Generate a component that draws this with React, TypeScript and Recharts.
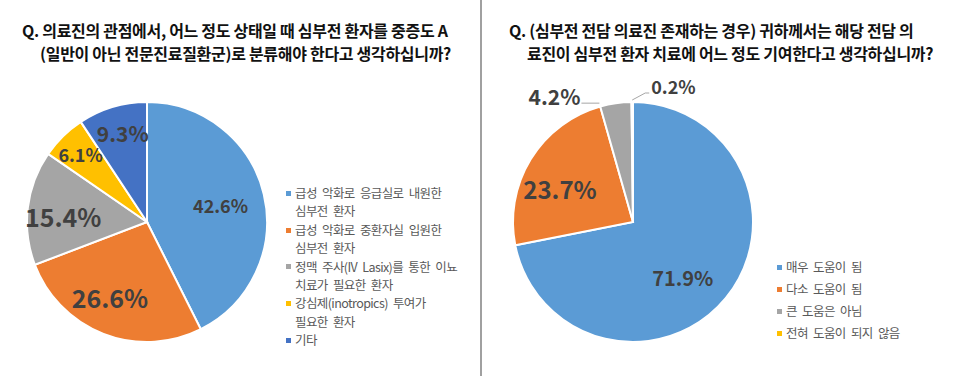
import { PieChart, Pie, Cell, Legend } from "recharts";

const COLORS = ["#5B9BD5", "#ED7D31", "#A5A5A5", "#FFC000", "#4472C4"];

const LEFT_TITLE = [
  "Q. 의료진의 관점에서, 어느 정도 상태일 때 심부전 환자를 중증도 A",
  "(일반이 아닌 전문진료질환군)로 분류해야 한다고 생각하십니까?",
];
const LEFT_NAMES = [
  "급성 악화로 응급실로 내원한\n심부전 환자",
  "급성 악화로 중환자실 입원한\n심부전 환자",
  "정맥 주사(IV Lasix)를 통한 이뇨\n치료가 필요한 환자",
  "강심제(inotropics) 투여가\n필요한 환자",
  "기타",
];
const LEFT_VALUES = [42.6, 26.6, 15.4, 6.1, 9.3];

const RIGHT_TITLE = [
  "Q. (심부전 전담 의료진 존재하는 경우) 귀하께서는 해당 전담 의",
  "료진이 심부전 환자 치료에 어느 정도 기여한다고 생각하십니까?",
];
const RIGHT_NAMES = ["매우 도움이 됨", "다소 도움이 됨", "큰 도움은 아님", "전혀 도움이 되지 않음"];
const RIGHT_VALUES = [71.9, 23.7, 4.2, 0.2];

// label placement per slice (radius ratio, angle nudge, font size, outside side)
const LEFT_LABELS = [
  { r: 0.63, a: 0, size: 18 },
  { r: 0.7, a: -5, size: 25 },
  { r: 0.7, a: 3, size: 25 },
  { r: 0.79, a: 0, size: 18 },
  { r: 0.77, a: -1.5, size: 21 },
];
const RIGHT_LABELS = [
  { r: 0.62, a: -8.6, size: 20 },
  { r: 0.67, a: 6.7, size: 24 },
  { r: 1, a: 7.5, size: 21, out: "left" },
  { r: 1, a: 0, size: 18, out: "right" },
];

const FONT = "'Noto Sans CJK KR', 'Noto Sans', sans-serif";
const RAD = Math.PI / 180;

const toRows = (names: string[], values: number[]) =>
  names.map((name, i) => ({ name, value: values[i] }));

function makeLabel(styles: any[]) {
  return (props: any) => {
    const { cx, cy, midAngle, outerRadius, value, index } = props;
    const s = styles[index];
    const text = Number(value).toFixed(1) + "%";
    const common = {
      fill: "#404040",
      fontSize: s.size,
      fontWeight: 700,
      fontFamily: FONT,
      dominantBaseline: "central" as const,
    };
    if (s.out === "left") {
      const ang = (midAngle + s.a) * RAD;
      const ax = cx + (outerRadius + 3.5) * Math.cos(ang);
      const ay = cy - (outerRadius + 3.5) * Math.sin(ang);
      return (
        <g>
          <polyline points={`${ax},${ay} ${ax - 18},${ay}`} stroke="#A6A6A6" strokeWidth={1} fill="none" />
          <text x={ax - 19} y={ay - 7} textAnchor="end" {...common}>
            {text}
          </text>
        </g>
      );
    }
    if (s.out === "right") {
      const ang = midAngle * RAD;
      const ax = cx + (outerRadius + 2) * Math.cos(ang);
      const ay = cy - (outerRadius + 2) * Math.sin(ang);
      return (
        <g>
          <polyline
            points={`${ax},${ay} ${ax + 13},${ay - 7} ${ax + 17},${ay - 7}`}
            stroke="#A6A6A6"
            strokeWidth={1}
            fill="none"
          />
          <text x={ax + 19} y={ay - 14} textAnchor="start" {...common}>
            {text}
          </text>
        </g>
      );
    }
    const ang = (midAngle + s.a) * RAD;
    const r = outerRadius * s.r;
    return (
      <text x={cx + r * Math.cos(ang)} y={cy - r * Math.sin(ang)} textAnchor="middle" {...common}>
        {text}
      </text>
    );
  };
}

// legend drawn in data order (recharts would sort it by name otherwise)
function makeLegend(names: string[], lineHeight: number) {
  return () => (
    <div
      style={{
        fontFamily: FONT,
        fontSize: 12.5,
        color: "#595959",
        letterSpacing: -0.6,
        wordSpacing: 3,
      }}
    >
      {names.map((n, i) => (
        <div key={i} style={{ display: "flex", alignItems: "flex-start", lineHeight: `${lineHeight}px` }}>
          <span
            style={{
              display: "inline-block",
              width: 5,
              height: 5,
              background: COLORS[i % COLORS.length],
              marginTop: (lineHeight - 5) / 2,
              marginRight: 4,
              flex: "none",
            }}
          />
          <span style={{ whiteSpace: "pre" }}>{n}</span>
        </div>
      ))}
    </div>
  );
}

function Title({ lines, left, indent }: { lines: string[]; left: number; indent: number }) {
  return (
    <>
      {lines.map((t, i) => (
        <div
          key={i}
          style={{
            position: "absolute",
            left: left + (i ? indent : 0),
            top: 19 + i * 22.5,
            fontFamily: FONT,
            fontWeight: 700,
            fontSize: 16,
            lineHeight: "22px",
            letterSpacing: -0.3,
            color: "#111",
            whiteSpace: "nowrap",
          }}
        >
          {t}
        </div>
      ))}
    </>
  );
}

export default function App() {
  const left = toRows(LEFT_NAMES, LEFT_VALUES);
  const right = toRows(RIGHT_NAMES, RIGHT_VALUES);
  const margin = { top: 0, right: 0, bottom: 0, left: 0 };
  return (
    <div
      style={{
        position: "absolute",
        left: 0,
        top: 0,
        width: 960,
        height: 376,
        background: "#fff",
        overflow: "hidden",
      }}
    >
      <Title lines={LEFT_TITLE} left={22} indent={18} />
      <Title lines={RIGHT_TITLE} left={509} indent={18} />
      <div style={{ position: "absolute", left: 480, top: 0, width: 2, height: 376, background: "#A0A0A0" }} />

      <div style={{ position: "absolute", left: 0, top: 0 }}>
        <PieChart width={480} height={376} margin={margin}>
          <Pie
            data={left}
            dataKey="value"
            nameKey="name"
            cx={147}
            cy={222}
            outerRadius={120}
            startAngle={90}
            endAngle={-270}
            stroke="#fff"
            strokeWidth={2}
            labelLine={false}
            label={makeLabel(LEFT_LABELS)}
            isAnimationActive={false}
          >
            {left.map((_, i) => (
              <Cell key={i} fill={COLORS[i % COLORS.length]} />
            ))}
          </Pie>
          <Legend
            content={makeLegend(LEFT_NAMES, 18.4)}
            wrapperStyle={{ left: 286, top: 184, width: 190, bottom: "auto", right: "auto" }}
          />
        </PieChart>
      </div>

      <div style={{ position: "absolute", left: 481, top: 0 }}>
        <PieChart width={479} height={376} margin={margin}>
          <Pie
            data={right}
            dataKey="value"
            nameKey="name"
            cx={152}
            cy={222}
            outerRadius={120}
            startAngle={90}
            endAngle={-270}
            stroke="#fff"
            strokeWidth={2}
            labelLine={false}
            label={makeLabel(RIGHT_LABELS)}
            isAnimationActive={false}
          >
            {right.map((_, i) => (
              <Cell key={i} fill={COLORS[i % COLORS.length]} />
            ))}
          </Pie>
          <Legend
            content={makeLegend(RIGHT_NAMES, 22)}
            wrapperStyle={{ left: 296, top: 256, width: 180, bottom: "auto", right: "auto" }}
          />
        </PieChart>
      </div>
    </div>
  );
}
